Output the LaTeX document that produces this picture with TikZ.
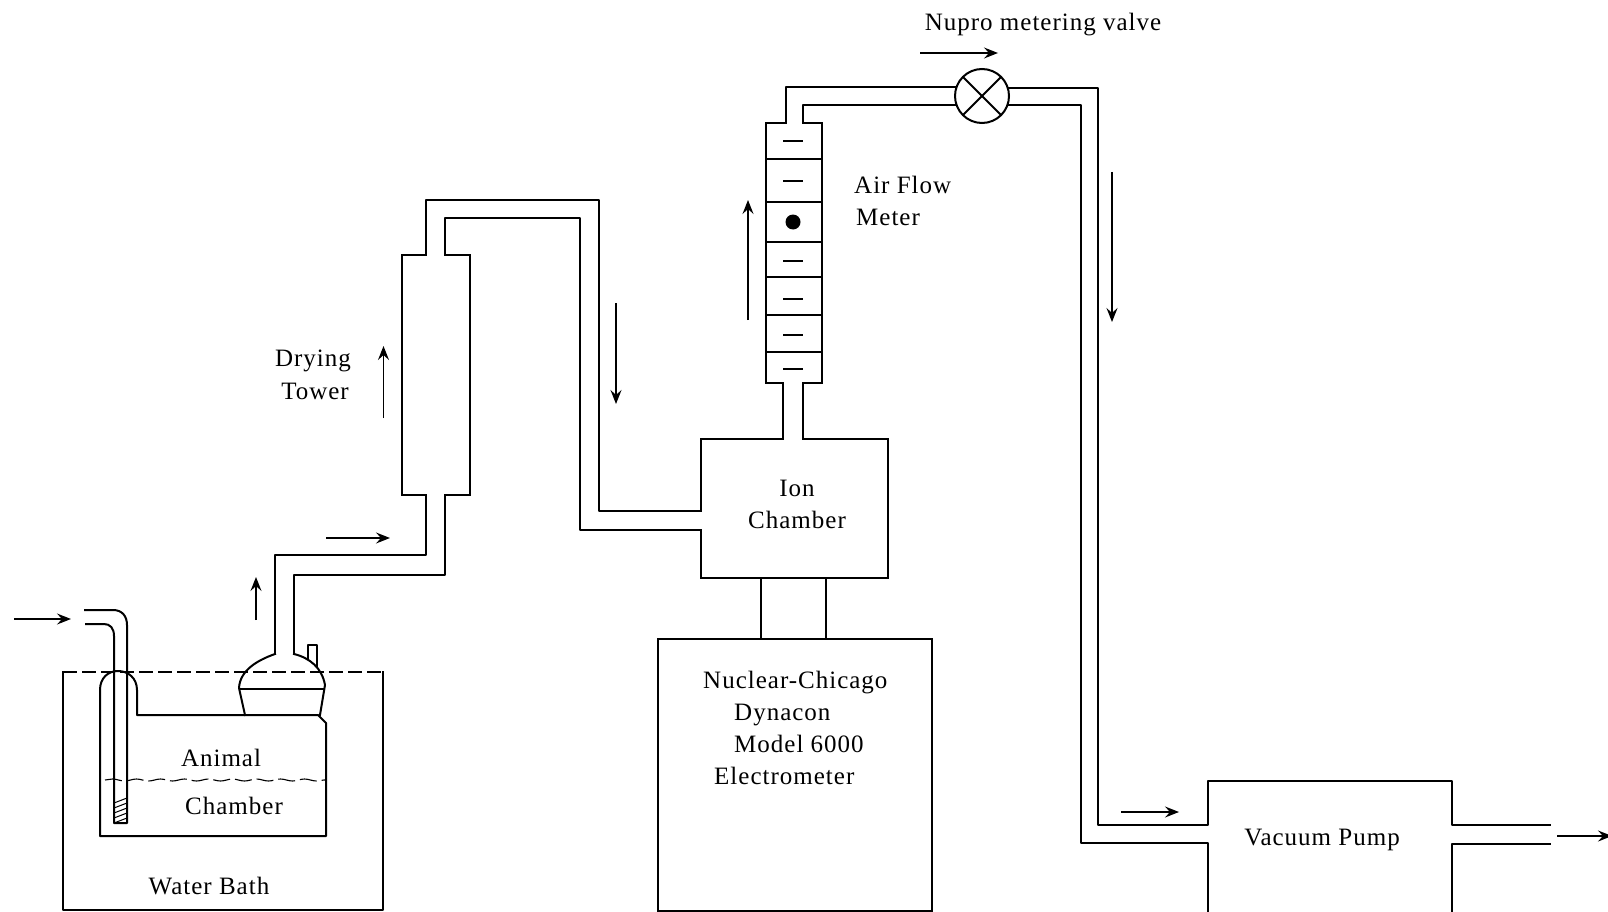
\documentclass[tikz,border=0pt]{standalone}
\usepackage{fontspec}
\setmainfont[LetterSpace=4]{Liberation Serif}
\usetikzlibrary{arrows.meta,positioning,calc}
\usetikzlibrary{decorations.pathmorphing}
\tikzset{
pipe/.style={line width=2pt,line join=round,line cap=rect},
gap/.style={white,line width=3pt},
flow/.style={line width=1.3pt,-{Stealth[length=14pt,width=11pt,inset=5pt]}},
box/.style={draw,line width=2pt,rectangle,inner sep=0pt,outer sep=0pt,align=center},
lab/.style={font=\fontsize{25}{32}\selectfont,inner sep=0pt,align=center}
}
\begin{document}
\begin{tikzpicture}[x=1pt,y=-1pt]
\useasboundingbox (0,0) rectangle (1608,912);
% boxes
\node[box,minimum width=68,minimum height=240] (Tower) at (436,375) {};
\node[box,minimum width=56,minimum height=260] (Meter) at (794,253) {};
\node[box,minimum width=187,minimum height=139] (Ion) at (794.5,508.5) {};
\node[box,minimum width=274,minimum height=272] (Electro) at (794.5,775) {};
\node[box,circle,minimum size=54] (Valve) at (982,96) {};
% labels
\node[lab] (IonLab) at (797,504) {Ion\\Chamber};
\node[lab] (PumpLab) at (1322,840) {Vacuum Pump};
\node[lab] (ValveLab) at (1043,25) {Nupro metering valve};
\node[lab,anchor=west] (MeterLab) at (854,185) {Air Flow};
\node[lab,anchor=west] (MeterLabB) at (856,217) {Meter};
\node[lab] (TowerLab) at (313,361) {Drying};
\node[lab] (TowerLabB) at (315,391) {Tower};
\node[lab,anchor=west] (ElecA) at (703,683) {Nuclear-Chicago};
\node[lab,anchor=west] (ElecB) at (734,715) {Dynacon};
\node[lab,anchor=west] (ElecC) at (734,744) {Model 6000};
\node[lab,anchor=west] (ElecD) at (714,776) {Electrometer};
\node[lab] (AnimalLab) at (221,758) {Animal};
\node[lab] (ChamberLab) at (234,806) {Chamber};
\node[lab] (BathLab) at (209,886) {Water Bath};
% water bath
\draw[pipe] (63,672) -- (63,910) -- (383,910) -- (383,672);
\draw[line width=2pt,dash pattern=on 14pt off 5pt] (63,672) -- (383,672);
% animal chamber
\draw[pipe] (326,723) -- (326,836) -- (100,836) -- (100,690) .. controls (100,678) and (108,671) .. (118,671)
.. controls (128,671) and (137,678) .. (137,690) -- (137,715) -- (318,715) -- cycle;
\draw[line width=1.1pt,dash pattern=on 17pt off 5pt,decorate,decoration={snake,amplitude=1pt,segment length=24pt}] (105,780) -- (326,780);
% inlet tube
\draw[pipe] (85,610) -- (113,610) .. controls (122,610) and (127,616) .. (127,625) -- (127,823) -- (114,823) -- (114,636)
.. controls (114,628) and (110,624) .. (104,624) -- (86,624);
\foreach \y in {803,808,813,818,823} {\draw[line width=1pt] (114,\y) -- (127,\y-5);}
% flask
\draw[pipe] (245,715) -- (239,688) .. controls (240,670) and (258,660) .. (275,654);
\draw[pipe] (294,654) .. controls (310,658) and (322,668) .. (325,685) -- (320,715);
\draw[pipe] (241,689) -- (323,689);
\draw[pipe] (308,658) -- (308,645) -- (317,645) -- (317,667);
% openings where the pipes enter
\draw[gap] (Tower.south -| 426,0) -- (Tower.south -| 445,0);
\draw[gap] (Tower.north -| 426,0) -- (Tower.north -| 445,0);
\draw[gap] (Ion.north -| 783,0) -- (Ion.north -| 803,0);
\draw[gap] (Meter.south -| 783,0) -- (Meter.south -| 803,0);
\draw[gap] (Meter.north -| 786,0) -- (Meter.north -| 803,0);
\draw[gap] (Ion.west |- 0,511) -- (Ion.west |- 0,530);
% pipes, chamber to tower to ion chamber
\draw[pipe] (275,654) -- (275,555) -- (426,555) -- (Tower.south -| 426,0);
\draw[pipe] (294,654) -- (294,575) -- (445,575) -- (Tower.south -| 445,0);
\draw[pipe] (Tower.north -| 426,0) -- (426,200) -- (599,200) -- (599,511) -- (Ion.west |- 0,511);
\draw[pipe] (Tower.north -| 445,0) -- (445,218) -- (580,218) -- (580,530) -- (Ion.west |- 0,530);
% ion chamber to meter to valve
\draw[pipe] (Ion.north -| 783,0) -- (Meter.south -| 783,0);
\draw[pipe] (Ion.north -| 803,0) -- (Meter.south -| 803,0);
\draw[pipe] (Meter.north -| 786,0) -- (786,87) -- (Valve.west |- 0,87);
\draw[pipe] (Meter.north -| 803,0) -- (803,105) -- (Valve.west |- 0,105);
\draw[pipe] (Ion.south -| 761,0) -- (Electro.north -| 761,0);
\draw[pipe] (Ion.south -| 826,0) -- (Electro.north -| 826,0);
% valve cross
\draw[line width=2pt] (Valve.45) -- (Valve.225);
\draw[line width=2pt] (Valve.135) -- (Valve.315);
% meter cells
\foreach \y in {159,202,242,277,315,352} {\draw[line width=1.6pt] (Meter.west |- 0,\y) -- (Meter.east |- 0,\y);}
\foreach \y in {141,181,261,299,335,369} {\draw[line width=1.6pt] (783,\y) -- (803,\y);}
\node[circle,fill,inner sep=0pt,minimum size=15] (Ball) at (793,222) {};
% valve to pump
\draw[pipe] (Valve.east |- 0,88) -- (1098,88) -- (1098,825) -- (1208,825) -- (1208,781) -- (1452,781) -- (1452,825) -- (1550,825);
\draw[pipe] (Valve.east |- 0,105) -- (1081,105) -- (1081,843) -- (1208,843) -- (1208,912);
\draw[pipe] (1452,912) -- (1452,844) -- (1550,844);
% flow arrows
\draw[flow] (14,619) -- (71,619);
\draw[flow] (256,620) -- (256,577);
\draw[flow] (326,538) -- (390,538);
\draw[flow] (383.5,418) -- (383.5,346);
\draw[flow] (616,303) -- (616,404);
\draw[flow] (748,320) -- (748,200);
\draw[flow] (920,53) -- (998,53);
\draw[flow] (1112,172) -- (1112,322);
\draw[flow] (1121,812) -- (1179,812);
\draw[flow] (1557,836) -- (1612,836);
\end{tikzpicture}
\end{document}
